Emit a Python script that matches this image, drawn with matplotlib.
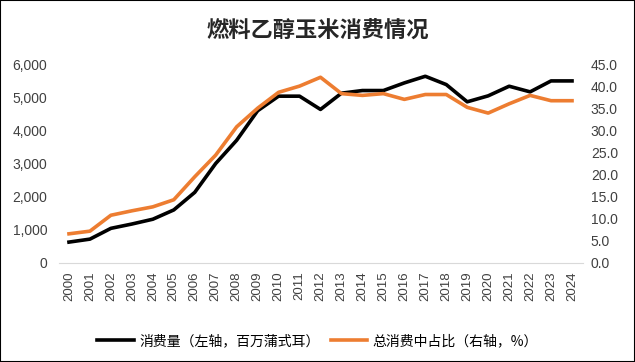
import numpy as np
import matplotlib.pyplot as plt
from matplotlib.patches import Rectangle

plt.rcParams['font.family'] = ['Liberation Sans', 'Noto Sans CJK SC', 'DejaVu Sans']

years = [str(y) for y in range(2000, 2025)]
# 消费量（左轴，百万蒲式耳）
consumption = [630, 720, 1045, 1175, 1320, 1600, 2130, 3000, 3700, 4590,
               5030, 5030, 4630, 5120, 5200, 5200, 5430, 5630, 5380, 4860,
               5040, 5330, 5160, 5490, 5490]
# 总消费中占比（右轴，%）
share = [6.6, 7.2, 10.8, 11.8, 12.7, 14.3, 19.5, 24.4, 30.8, 35.0,
         38.6, 40.0, 42.0, 38.3, 37.9, 38.3, 37.0, 38.1, 38.1, 35.2,
         33.9, 36.0, 37.9, 36.7, 36.7]

label_left = '消费量（左轴，百万蒲式耳）'
label_right = '总消费中占比（右轴，%）'
title = '燃料乙醇玉米消费情况'

tick_color = '#404040'
orange = '#ED7D31'

fig = plt.figure(figsize=(6.35, 3.62), dpi=100)
ax = fig.add_axes([58.5 / 635, 1 - 263 / 362, (582.5 - 58.5) / 635, (263 - 64) / 362])
ax2 = ax.twinx()

x = np.arange(len(years))
l1, = ax.plot(x, consumption, color='black', lw=2.6, label=label_left, zorder=3)
l2, = ax2.plot(x, share, color=orange, lw=2.6, label=label_right, zorder=2)

ax.set_xlim(-0.5, len(years) - 0.5)
ax.set_ylim(0, 6000)
ax.set_yticks(range(0, 6001, 1000))
ax.set_yticklabels([f'{v:,}' for v in range(0, 6001, 1000)])
ax2.set_ylim(0, 45)
ax2.set_yticks(np.arange(0, 45.1, 5))
ax2.set_yticklabels([f'{v:.1f}' for v in np.arange(0, 45.1, 5)])

ax.set_xticks(x)
ax.set_xticklabels(years, rotation=90)

for a in (ax, ax2):
    for s in a.spines.values():
        s.set_visible(False)
    a.tick_params(length=0, colors=tick_color, labelsize=10)
ax.spines['bottom'].set_visible(True)
ax.spines['bottom'].set_color('#D9D9D9')
ax.tick_params(axis='x', labelsize=9.5, pad=6)
ax.tick_params(axis='y', pad=8)
ax2.tick_params(axis='y', pad=6)

fig.text(0.5, 1 - 31 / 362, title, ha='center', va='center', fontsize=16,
         fontweight='bold', color='#262626', family=['Noto Sans CJK SC'])

fig.legend(handles=[l1, l2], loc='center', bbox_to_anchor=(0.5, 1 - 341 / 362),
           ncol=2, frameon=False, handlelength=2.6,
           columnspacing=0.8, handletextpad=0.4,
           prop={'family': ['Noto Sans CJK SC'], 'size': 10})

fig.patches.append(Rectangle((0, 0), 1, 1, transform=fig.transFigure,
                             fill=False, edgecolor='black', lw=1.5))

fig.savefig('out.png', dpi=100)
